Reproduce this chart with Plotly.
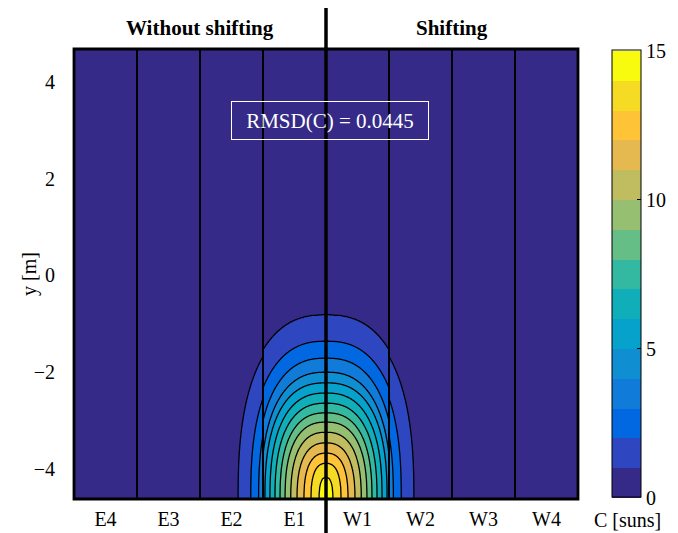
import numpy as np
import plotly.graph_objects as go

# ---------------- data ----------------
strip_labels = ["E4", "E3", "E2", "E1", "W1", "W2", "W3", "W4"]
strip_positions = [-3.5, -2.5, -1.5, -0.5, 0.5, 1.5, 2.5, 3.5]
y_tick_vals = [-4, -2, 0, 2, 4]
y_tick_text = ["\u22124", "\u22122", "0", "2", "4"]
cbar_tick_vals = [0, 5, 10, 15]

# concentration contour levels (suns) and their read geometry
levels = list(range(1, 15))
# y [m] of the top of each contour on the centre line
level_top_y = [-0.82, -1.36, -1.71, -2.00, -2.22, -2.43, -2.64, -2.84,
               -3.03, -3.24, -3.46, -3.67, -3.88, -4.17]
# half width (in strip widths) of each contour at the lower edge
level_halfwidth = [1.43, 1.24, 1.11, 1.03, 0.97, 0.89, 0.81, 0.73,
                   0.65, 0.56, 0.46, 0.35, 0.24, 0.11]
peak_value = 14.6
outer_strip_ratio = 0.86      # E2/W2 strips sit slightly lower
rmsd_value = 0.0445

parula15 = ["#352a87", "#2e47c1", "#0268e1", "#117bd9", "#108ed2",
            "#06a2cb", "#0faeb9", "#33b8a1", "#65be86", "#96bf71",
            "#c0bc60", "#e5b950", "#ffc337", "#f6db24", "#f9fb0e"]

Y_MIN, Y_MAX = -4.62, 4.68
SHAPE_P = 2.5


def base_field(d, y):
    h = np.clip(y - Y_MIN, 0, None)
    t = np.array(level_top_y) - Y_MIN
    w = np.array(level_halfwidth)
    rho = ((np.abs(d)[None] / w[:, None, None]) ** SHAPE_P +
           (h[None] / t[:, None, None]) ** SHAPE_P) ** (1.0 / SHAPE_P)
    n = (rho <= 1).sum(axis=0)
    z = 1.0 / np.maximum(rho[0], 1.0)
    nn = len(levels)
    lo_idx = np.clip(n - 1, 0, nn - 1)
    hi_idx = np.clip(n, 0, nn - 1)
    r_lo = np.take_along_axis(rho, lo_idx[None], 0)[0]
    r_hi = np.take_along_axis(rho, hi_idx[None], 0)[0]
    mid = (n >= 1) & (n < nn)
    frac = (1 - r_lo) / np.where(r_hi - r_lo == 0, 1, r_hi - r_lo)
    z = np.where(mid, n + frac, z)
    z = np.where(n == nn, levels[-1] + (1 - rho[-1]) * (peak_value - levels[-1]), z)
    return z


ys = np.linspace(Y_MIN, Y_MAX, 420)

# stepped colorscale for the contour fills (15 regions at s = k/14)
cs_fill = []
for k, c in enumerate(parula15):
    a = max(0.0, (k - 0.5) / 14)
    b = min(1.0, (k + 0.5) / 14)
    cs_fill += [[a, c], [b, c]]

# stepped colorscale for the colourbar (0..15, 15 bands)
cs_bar = []
for k, c in enumerate(parula15):
    cs_bar += [[k / 15, c], [(k + 1) / 15, c]]

fig = go.Figure()

segments = [(-4, -1, outer_strip_ratio, 241), (-1, 0, 1.0, 121),
            (0, 1, 1.0, 121), (1, 4, outer_strip_ratio, 241)]
for x0, x1, ratio, nx in segments:
    xs = np.linspace(x0, x1, nx)
    X, Y = np.meshgrid(xs, ys)
    Z = base_field(X, Y) * ratio
    fig.add_trace(go.Contour(
        x=xs, y=ys, z=Z,
        contours=dict(start=levels[0], end=levels[-1], size=1,
                      coloring="fill", showlines=True),
        line=dict(color="black", width=1.3, smoothing=1),
        colorscale=cs_fill, showscale=False, hoverinfo="skip"))

# colour bar carrier
fig.add_trace(go.Scatter(
    x=[-10], y=[-10], mode="markers", hoverinfo="skip", showlegend=False,
    marker=dict(color=[0], cmin=0, cmax=15, colorscale=cs_bar, size=1,
                showscale=True,
                colorbar=dict(x=1.0675, xanchor="left", xpad=0, ypad=0,
                              y=0.5, yanchor="middle", len=447, lenmode="pixels",
                              thickness=29, outlinecolor="black", outlinewidth=1,
                              tickvals=cbar_tick_vals, ticks="inside", ticklen=4,
                              tickcolor="black",
                              tickfont=dict(family="Liberation Serif", size=20,
                                            color="black")))))

font_serif = dict(family="Liberation Serif", size=20, color="black")

shapes = [dict(type="rect", xref="paper", yref="paper", x0=0, x1=1, y0=0, y1=1,
               line=dict(color="black", width=2.8))]
for xv in [-3, -2, -1, 1, 2, 3]:
    shapes.append(dict(type="line", xref="x", yref="paper", x0=xv, x1=xv,
                       y0=0, y1=1, line=dict(color="black", width=2)))
shapes.append(dict(type="line", xref="x", yref="paper", x0=0, x1=0,
                   y0=-0.0756, y1=1.091, line=dict(color="black", width=3.5)))

title_font = dict(family="Liberation Serif", size=21, color="black")
annotations = [
    dict(text="<b>Without shifting</b>", x=-2, xref="x", y=1.047, yref="paper",
         xanchor="center", yanchor="middle", showarrow=False, font=title_font),
    dict(text="<b>Shifting</b>", x=2, xref="x", y=1.047, yref="paper",
         xanchor="center", yanchor="middle", showarrow=False, font=title_font),
    dict(text="RMSD(C) = %.4f" % rmsd_value, x=0.508, xref="paper", y=0.841,
         yref="paper", xanchor="center", yanchor="middle", showarrow=False,
         width=196, height=37, borderpad=0,
         bordercolor="white", borderwidth=1,
         font=dict(family="Liberation Serif", size=21, color="white")),
    dict(text="y [m]", x=(29 - 74) / 504, xref="paper", y=0.5, yref="paper",
         xanchor="center", yanchor="middle",
         textangle=-90, showarrow=False, font=font_serif),
    dict(text="C [suns]", x=(627 - 74) / 504, xref="paper",
         y=(499 - 520) / 450, yref="paper", xanchor="center", yanchor="middle",
         showarrow=False, font=font_serif),
]

fig.update_layout(
    width=678, height=533,
    margin=dict(l=74, r=100, t=49, b=34, autoexpand=False),
    paper_bgcolor="white", plot_bgcolor=parula15[0],
    showlegend=False,
    xaxis=dict(range=[-4, 4], tickvals=strip_positions, ticktext=strip_labels,
               showgrid=False, zeroline=False, showline=False,
               ticks="outside", ticklen=2, tickcolor="rgba(0,0,0,0)",
               tickfont=font_serif),
    yaxis=dict(range=[Y_MIN, Y_MAX], tickvals=y_tick_vals, ticktext=y_tick_text,
               showgrid=False, zeroline=False, showline=False,
               ticks="outside", ticklen=14, tickcolor="rgba(0,0,0,0)",
               tickfont=font_serif),
    shapes=shapes, annotations=annotations,
)

fig.write_html("out.html")
